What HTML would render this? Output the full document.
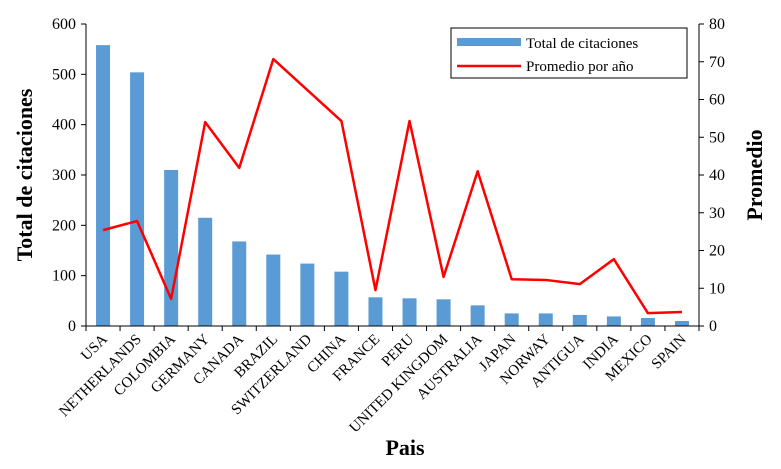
<!DOCTYPE html>
<html><head><meta charset="utf-8"><style>
body{margin:0;background:#fff;}
svg text{font-family:"Liberation Serif",serif;}
</style></head><body>
<svg id="chart" width="781" height="464" xmlns="http://www.w3.org/2000/svg"></svg>
<script>
const categories=["USA","NETHERLANDS","COLOMBIA","GERMANY","CANADA","BRAZIL","SWITZERLAND","CHINA","FRANCE","PERU","UNITED KINGDOM","AUSTRALIA","JAPAN","NORWAY","ANTIGUA","INDIA","MEXICO","SPAIN"];
const citations=[558,504,310,215,168,142,124,108,57,55,53,41,25,25,22,19,16,10];
const average=[25.4,27.8,7.2,54,41.9,70.7,62.5,54.3,9.5,54.3,13,41,12.4,12.2,11.1,17.7,3.4,3.7];
const leftTicks=[0,100,200,300,400,500,600];
const rightTicks=[0,10,20,30,40,50,60,70,80];

const svg=document.getElementById('chart');
const NS="http://www.w3.org/2000/svg";
const X0=86,X1=699,Y0=326,Y1=24;
const band=(X1-X0)/categories.length;
const xC=i=>X0+band*(i+0.5);
const yL=v=>Y0-(v/600)*(Y0-Y1);
const yR=v=>Y0-(v/80)*(Y0-Y1);
function mk(tag,attrs,parent){const e=document.createElementNS(NS,tag);for(const k in attrs)e.setAttribute(k,attrs[k]);(parent||svg).appendChild(e);return e;}

categories.forEach((c,i)=>{
  const b=mk('rect',{x:xC(i)-7,y:yL(citations[i]),width:14,height:Y0-yL(citations[i]),fill:'#5B9BD5'});
  
  
});
const ax=mk('path',{d:`M${X0},${Y1}V${Y0}H${X1}V${Y1}`,stroke:'#000','stroke-width':1,fill:'none'});


leftTicks.forEach(v=>{
  mk('line',{x1:X0-5,x2:X0,y1:yL(v),y2:yL(v),stroke:'#000'});
  const t=mk('text',{x:X0-10,y:yL(v)+5,'text-anchor':'end','font-size':16});
  t.textContent=v;
  
  
});
rightTicks.forEach(v=>{
  mk('line',{x1:X1,x2:X1+5,y1:yR(v),y2:yR(v),stroke:'#000'});
  const t=mk('text',{x:X1+10,y:yR(v)+5,'text-anchor':'start','font-size':16});
  t.textContent=v;
  
  
});
for(let i=0;i<=categories.length;i++){mk('line',{x1:X0+band*i,x2:X0+band*i,y1:Y0,y2:Y0+5,stroke:'#000'});}
categories.forEach((c,i)=>{
  const x=xC(i)+5,y=Y0+14;
  const t=mk('text',{x:x,y:y,'text-anchor':'end','font-size':15,transform:`rotate(-45 ${x} ${y})`});
  t.textContent=c;
  
  
});
const ln=mk('polyline',{points:average.map((v,i)=>xC(i)+','+yR(v)).join(' '),fill:'none',stroke:'#FF0000','stroke-width':2.5,'stroke-linejoin':'round'});


let t=mk('text',{x:405,y:455,'text-anchor':'middle','font-size':22,'font-weight':'bold'});t.textContent='Pais';

t=mk('text',{x:0,y:0,'text-anchor':'middle','font-size':22,'font-weight':'bold',transform:'translate(32,175) rotate(-90)'});t.textContent='Total de citaciones';

t=mk('text',{x:0,y:0,'text-anchor':'middle','font-size':22,'font-weight':'bold',transform:'translate(762,175) rotate(-90)'});t.textContent='Promedio';

const lg=mk('g',{});

mk('rect',{x:451,y:28,width:236,height:50,fill:'#fff',stroke:'#000'},lg);
mk('rect',{x:457,y:38,width:64,height:8,fill:'#5B9BD5'},lg);
t=mk('text',{x:526,y:48,'font-size':15},lg);t.textContent='Total de citaciones';

mk('line',{x1:457,x2:521,y1:66,y2:66,stroke:'#FF0000','stroke-width':2.5},lg);
t=mk('text',{x:526,y:71,'font-size':15},lg);t.textContent='Promedio por año';

</script>
</body></html>
